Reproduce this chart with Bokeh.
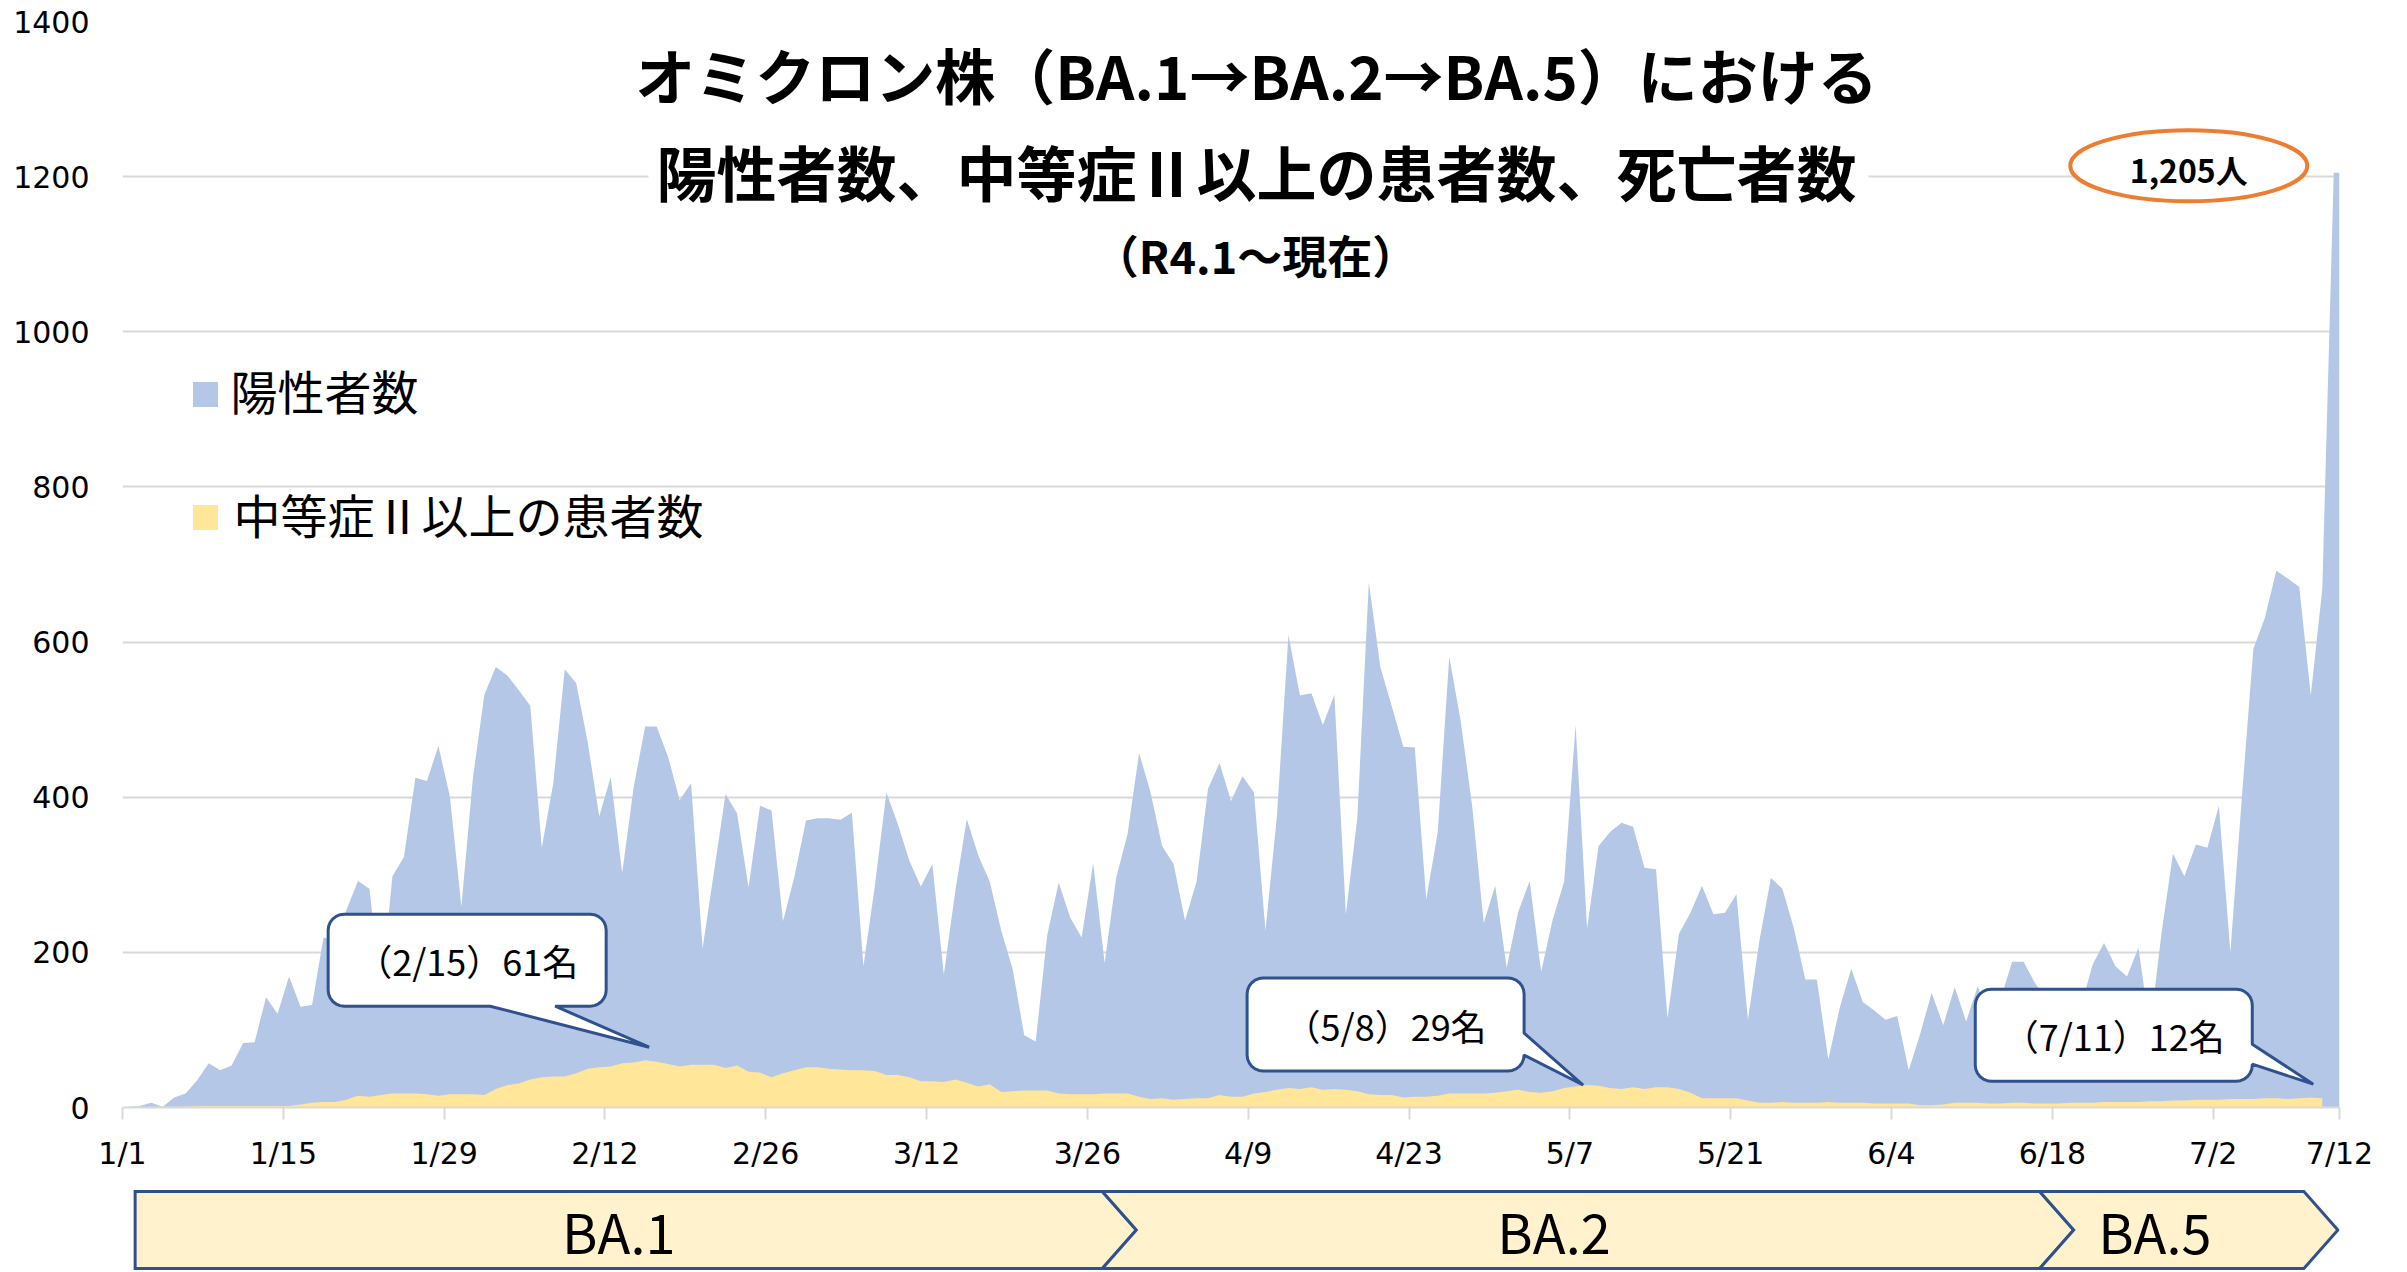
import math
import numpy as np
import pandas as pd
from bokeh.plotting import figure
from bokeh.layouts import column
from bokeh.models import Range1d, FixedTicker
from bokeh.core.properties import value
from bokeh.embed import file_html
from bokeh.resources import INLINE

# ---------------- data ----------------
dates = pd.date_range("2022-01-01", "2022-07-12", freq="D")

positives = [
    1, 2, 6, 1, 13, 18, 35, 57, 48, 54,
    83, 84, 142, 121, 169, 130, 132, 219, 215, 255,
    292, 282, 148, 298, 323, 425, 421, 466, 401, 259,
    424, 532, 568, 557, 538, 518, 335, 418, 565, 547,
    471, 375, 426, 302, 413, 491, 491, 452, 396, 418,
    205, 305, 404, 379, 284, 389, 383, 240, 298, 370,
    373, 373, 371, 380, 182, 286, 406, 365, 318, 285,
    314, 171, 279, 372, 325, 291, 228, 178, 93, 85,
    222, 290, 245, 219, 315, 186, 296, 353, 457, 406,
    337, 314, 241, 291, 411, 444, 395, 427, 406, 228,
    376, 609, 531, 534, 493, 532, 249, 374, 677, 568,
    517, 465, 464, 268, 355, 581, 498, 388, 238, 286,
    180, 252, 292, 175, 242, 291, 493, 231, 337, 355,
    367, 362, 309, 307, 115, 224, 251, 286, 249, 251,
    275, 113, 215, 296, 282, 231, 165, 165, 62, 129,
    179, 136, 125, 113, 118, 48, 95, 148, 106, 155,
    111, 156, 120, 140, 188, 188, 160, 140, 125, 115,
    130, 184, 212, 182, 169, 206, 100, 224, 327, 298,
    339, 335, 389, 200, 400, 591, 631, 692, 682, 671,
    531, 668, 1205,
]

severe = [
    0, 0, 1, 1, 1, 1, 2, 2, 2, 2,
    2, 2, 2, 2, 2, 4, 6, 7, 7, 10,
    15, 14, 16, 18, 18, 18, 17, 15, 17, 17,
    17, 16, 24, 29, 31, 36, 39, 40, 40, 44,
    50, 52, 53, 57, 58, 61, 59, 56, 53, 55,
    55, 55, 51, 54, 46, 45, 39, 44, 48, 52,
    52, 50, 49, 48, 48, 47, 42, 42, 39, 34,
    34, 33, 36, 32, 27, 30, 20, 21, 22, 22,
    22, 18, 17, 17, 17, 18, 18, 18, 14, 11,
    12, 10, 11, 12, 12, 16, 14, 14, 18, 20,
    23, 25, 24, 26, 23, 24, 23, 21, 17, 16,
    16, 13, 14, 14, 15, 18, 18, 18, 18, 19,
    21, 23, 20, 19, 21, 25, 27, 29, 28, 25,
    24, 26, 24, 26, 26, 24, 19, 12, 12, 12,
    12, 9, 6, 6, 7, 6, 6, 6, 7, 6,
    6, 6, 5, 5, 5, 5, 3, 3, 4, 6,
    6, 6, 5, 5, 6, 6, 5, 5, 5, 6,
    6, 6, 7, 7, 7, 7, 8, 8, 9, 9,
    10, 10, 10, 11, 11, 11, 12, 12, 11, 12,
    13, 12,
]

tick_days = [0, 14, 28, 42, 56, 70, 84, 98, 112, 126, 140, 154, 168, 182, 193]
tick_labels = ["1/1", "1/15", "1/29", "2/12", "2/26", "3/12", "3/26", "4/9",
               "4/23", "5/7", "5/21", "6/4", "6/18", "7/2", "7/12"]
y_ticks = [0, 200, 400, 600, 800, 1000, 1200, 1400]

callout_days = [45, 127, 191]          # (2/15), (5/8), (7/11)

phase_names = ["BA.1", "BA.2", "BA.5"]
phase_start = [1.1, 85.3, 166.9]
phase_end = [85.3, 166.9, 189.9]

title_lines = ["オミクロン株（BA.1→BA.2→BA.5）における",
               "陽性者数、中等症Ⅱ以上の患者数、死亡者数",
               "（R4.1～現在）"]
legend_labels = ["陽性者数", "中等症Ⅱ以上の患者数"]

# ---------------- styling / geometry ----------------
BLUE = "#B4C7E7"
YELLOW = "#FFE699"
NAVY = "#2F528F"
ORANGE = "#ED7D31"
GRID = "#D9D9D9"
JP = value("Noto Sans CJK JP")

N_DAYS = len(dates)
FRAME_W, FRAME_H = 2217, 1086
BL, BR, BT, BB = 122, 66, 21, 65
X0 = BL                     # page x of frame left
Y0 = BT + FRAME_H           # page y of value 0
PXD = FRAME_W / N_DAYS
PXV = FRAME_H / 1400.0


def dx(px):
    return (px - X0) / PXD


def dy(py):
    return (Y0 - py) / PXV


x_centers = np.arange(N_DAYS) + 0.5

p = figure(frame_width=FRAME_W, frame_height=FRAME_H,
           min_border_left=BL, min_border_right=BR,
           min_border_top=BT, min_border_bottom=BB,
           x_range=Range1d(0, N_DAYS), y_range=Range1d(0, 1400),
           output_backend="svg", toolbar_location=None, title=None)
p.outline_line_color = None
p.background_fill_color = "white"
p.border_fill_color = "white"

# axes
p.xaxis.ticker = FixedTicker(ticks=tick_days)
p.xaxis.major_label_overrides = {d: l for d, l in zip(tick_days, tick_labels)}
p.xaxis.axis_line_color = GRID
p.xaxis.axis_line_width = 2
p.xaxis.major_tick_line_color = GRID
p.xaxis.major_tick_line_width = 2
p.xaxis.major_tick_out = 12
p.xaxis.major_tick_in = 0
p.xaxis.minor_tick_line_color = None
p.xaxis.major_label_standoff = 16
p.xaxis.major_label_text_font = "DejaVu Sans"
p.xaxis.major_label_text_font_size = "30px"
p.xaxis.major_label_text_color = "#000000"

p.yaxis.ticker = FixedTicker(ticks=y_ticks)
p.yaxis.axis_line_color = None
p.yaxis.major_tick_line_color = None
p.yaxis.minor_tick_line_color = None
p.yaxis.major_tick_out = 0
p.yaxis.major_tick_in = 0
p.yaxis.major_label_standoff = 33
p.yaxis.major_label_text_font = "DejaVu Sans"
p.yaxis.major_label_text_font_size = "30px"
p.yaxis.major_label_text_color = "#000000"

p.xgrid.visible = False
p.ygrid.ticker = FixedTicker(ticks=y_ticks)
p.ygrid.grid_line_color = GRID
p.ygrid.grid_line_width = 2

# areas
xb = list(x_centers) + [N_DAYS]
yb = list(positives) + [positives[-1]]
p.varea(x=xb, y1=[0] * len(xb), y2=yb, fill_color=BLUE)
xs_sev = x_centers[:len(severe)]
p.varea(x=xs_sev, y1=np.zeros(len(severe)), y2=severe, fill_color=YELLOW)

# title block (white text box)
p.quad(left=[dx(648)], right=[dx(1868)], top=[dy(30)], bottom=[dy(292)],
       fill_color="white", line_color=None)
p.text(x=[dx(1256)] * 2, y=[dy(73), dy(170)], text=title_lines[:2],
       text_font=JP, text_font_size="60px", text_font_style="bold",
       text_align="center", text_baseline="middle", text_color="black")
p.text(x=[dx(1255)], y=[dy(254)], text=[title_lines[2]],
       text_font=JP, text_font_size="45px", text_font_style="bold",
       text_align="center", text_baseline="middle", text_color="black")

# legend
p.scatter(x=[dx(205)] * 2, y=[dy(394), dy(517)], marker="square", size=25,
          fill_color=[BLUE, YELLOW], line_color=None)
p.text(x=[dx(230), dx(233)], y=[dy(389), dy(513)], text=legend_labels,
       text_font=JP, text_font_size="47px", text_align="left",
       text_baseline="middle", text_color="black")

# peak annotation
last_x = X0 + (N_DAYS - 0.5) * PXD
last_y = Y0 - positives[-1] * PXV
p.ellipse(x=[dx(last_x - 145)], y=[dy(last_y - 7)], width=237, height=71,
          width_units="screen", height_units="screen",
          fill_color="white", line_color=ORANGE, line_width=4)
p.text(x=[dx(last_x - 145)], y=[dy(last_y - 4)], text=[f"{positives[-1]:,}人"],
       text_font=JP, text_font_size="32px", text_font_style="bold",
       text_align="center", text_baseline="middle", text_color="black")


# callouts
def callout_shape(l, r, t, b, rad, edge, a1, a2, tip):
    pts = []

    def arc(cx, cy, a0, a1_):
        for k in range(7):
            th = math.radians(a0 + (a1_ - a0) * k / 6)
            pts.append((cx + rad * math.cos(th), cy + rad * math.sin(th)))

    arc(r - rad, t + rad, -90, 0)
    if edge == "right":
        pts.extend([(r, min(a1, a2)), tip, (r, max(a1, a2))])
    arc(r - rad, b - rad, 0, 90)
    if edge == "bottom":
        pts.extend([(max(a1, a2), b), tip, (min(a1, a2), b)])
    arc(l + rad, b - rad, 90, 180)
    arc(l + rad, t + rad, 180, 270)
    return pts


# offsets in px relative to the data point: tip, box l/r/t/b, pointer edge & base
callout_geom = [
    ((4, -13), (-317, -39, -146, -54), "bottom", (-155, -90)),
    ((-4, 0), (-340, -63, -107, -14), "right", (-52, -30)),
    ((-9, -14), (-347, -70, -109, -17), "right", (-54, -34)),
]

cx_list, cy_list, ctext, cxs, cys = [], [], [], [], []
for day, (tipo, box, edge, base) in zip(callout_days, callout_geom):
    ax = X0 + (day + 0.5) * PXD
    ay = Y0 - severe[day] * PXV
    tip = (ax + tipo[0], ay + tipo[1])
    l, r, t, b = ax + box[0], ax + box[1], ay + box[2], ay + box[3]
    if edge == "bottom":
        a1, a2 = ax + base[0], ax + base[1]
    else:
        a1, a2 = ay + base[0], ay + base[1]
    pts = callout_shape(l, r, t, b, 16, edge, a1, a2, tip)
    cxs.append([dx(px) for px, _ in pts])
    cys.append([dy(py) for _, py in pts])
    cx_list.append(dx((l + r) / 2))
    cy_list.append(dy((t + b) / 2))
    d = dates[day]
    ctext.append(f"（{d.month}/{d.day}）{severe[day]}名")

p.patches(xs=cxs, ys=cys, fill_color="white", line_color=NAVY, line_width=3)
p.text(x=cx_list, y=cy_list, text=ctext, text_font=JP, text_font_size="36px",
       text_align="center", text_baseline="middle", text_color="black")

# ---------------- variant phase chevrons ----------------
H2 = 98
p2 = figure(frame_width=FRAME_W, frame_height=H2,
            min_border_left=BL, min_border_right=BR,
            min_border_top=0, min_border_bottom=0,
            x_range=Range1d(0, N_DAYS), y_range=Range1d(0, H2),
            x_axis_location=None, y_axis_location=None,
            output_backend="svg", toolbar_location=None, title=None)
p2.outline_line_color = None
p2.grid.visible = False
p2.background_fill_color = "white"
p2.border_fill_color = "white"

top_y, bot_y = 80, 3
mid_y = (top_y + bot_y) / 2
tip_d = 34 / PXD
chev_x, chev_y, lab_x = [], [], []
for i, (s, e) in enumerate(zip(phase_start, phase_end)):
    notch = tip_d if i > 0 else 0
    chev_x.append([s, e, e + tip_d, e, s, s + notch])
    chev_y.append([top_y, top_y, mid_y, bot_y, bot_y, mid_y])
    lab_x.append((s + e) / 2 - (tip_d / 2 if i > 0 else 0))

p2.patches(xs=chev_x, ys=chev_y, fill_color="#FFF2CC", line_color=NAVY,
           line_width=3, line_join="miter")
p2.text(x=lab_x, y=[mid_y] * 3, text=phase_names, text_font=JP,
        text_font_size="54px", text_align="center", text_baseline="middle",
        text_color="black")

layout = column(p, p2, spacing=0)
open("out.html", "w").write(file_html(layout, INLINE))
